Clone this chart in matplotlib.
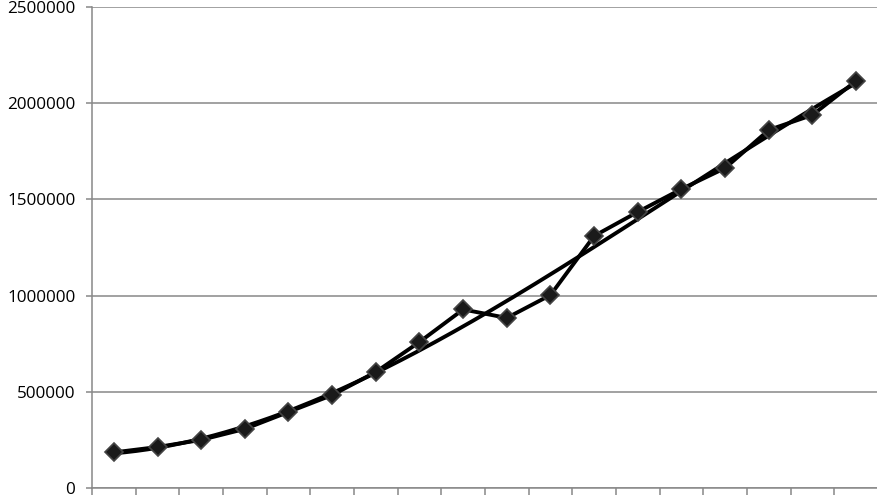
import matplotlib
matplotlib.use("Agg")
import matplotlib.pyplot as plt
import numpy as np

plt.rcParams['font.family'] = ['Open Sans', 'DejaVu Sans']

# values
categories = np.arange(1, 19)
values = [185000, 213000, 250000, 307000, 395000, 483000, 603000, 759000, 928000,
          884000, 1003000, 1310000, 1435000, 1554000, 1663000, 1861000, 1939000, 2116000]
y_ticks = [0, 500000, 1000000, 1500000, 2000000, 2500000]

fig = plt.figure(figsize=(8.78, 4.95), dpi=100)
ax = fig.add_axes([92 / 878, 7 / 495, 786 / 878, 481 / 495])

x = np.arange(len(categories))

# polynomial trendline like the spreadsheet one
coef = np.polyfit(x, values, 3)
xs = np.linspace(0, len(categories) - 1, 200)
ax.plot(xs, np.polyval(coef, xs), color='black', lw=2.8, zorder=3)

ax.plot(x, values, color='black', lw=2.8, marker='D', markersize=9,
        markerfacecolor='#1a1a1a', markeredgecolor='#444444', markeredgewidth=1.2, zorder=4)

ax.set_xlim(-0.5, len(categories) - 0.5)
ax.set_ylim(0, 2500000)
ax.set_yticks(y_ticks)
ax.set_yticklabels([str(v) for v in y_ticks])
ax.set_xticks(np.arange(-0.5, len(categories), 1))
ax.set_xticklabels([])

ax.grid(axis='y', color='#888888', lw=1.1)
ax.set_axisbelow(True)
for s in ['top', 'right']:
    ax.spines[s].set_visible(False)
for s in ['left', 'bottom']:
    ax.spines[s].set_color('#888888')
    ax.spines[s].set_linewidth(1.1)

ax.tick_params(axis='y', length=4, width=1.1, color='#888888', pad=8, labelsize=12.3)
ax.tick_params(axis='x', length=6, width=1.1, color='#888888')

fig.savefig('out.png', dpi=100)
